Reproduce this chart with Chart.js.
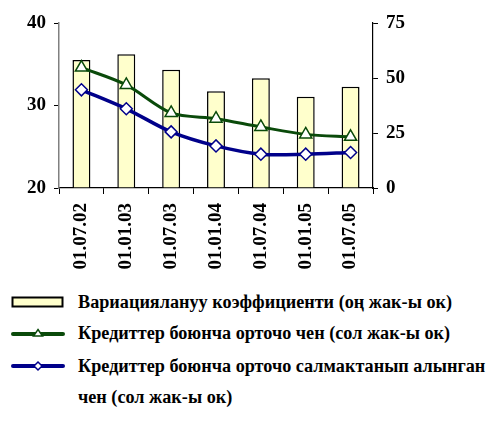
<!DOCTYPE html>
<html>
<head>
<meta charset="utf-8">
<script src="https://cdn.jsdelivr.net/npm/chart.js@4/dist/chart.umd.min.js"></script>
<style>
  body { margin: 0; background: #fff; font-family: "Liberation Serif", "Times New Roman", serif; }
  #wrap { position: relative; width: 491px; height: 285px; }
  #legend { position: absolute; left: 0; top: 288px; width: 491px; }
  .row { position: absolute; left: 11px; height: 20px; display: flex; align-items: center; }
  .row span { font-weight: 700; font-size: 18.2px; color: #000; position: absolute; left: 67px; white-space: nowrap; }
</style>
</head>
<body>
<div id="wrap"><canvas id="chart"></canvas></div>
<div id="legend"></div>
<script>
// chart data
const dates = ["01.07.02", "01.01.03", "01.07.03", "01.01.04", "01.07.04", "01.01.05", "01.07.05"];
const variation = [58.2, 60.8, 53.8, 44.0, 49.9, 41.5, 46.0];      // right axis
const avgRate = [34.6, 32.5, 29.1, 28.4, 27.4, 26.5, 26.2];        // left axis
const weightedRate = [31.9, 29.6, 26.8, 25.1, 24.1, 24.1, 24.3];   // left axis
const leftTicks = [20, 30, 40];
const rightTicks = [0, 25, 50, 75];

const names = [
    "Вариациялануу коэффициенти (оң жак-ы ок)",
    "Кредиттер боюнча орточо чен (сол жак-ы ок)",
    "Кредиттер боюнча орточо салмактанып алынган",
    "чен (сол жак-ы ок)"
];

const GREEN = "#0a4a0a";
const NAVY = "#00008a";
const tickFont = { family: "'Liberation Serif', 'Times New Roman', serif", size: 19, weight: 700 };

const ctx = document.getElementById("chart").getContext("2d");
new Chart(ctx, {
    type: "bar",
    data: {
        labels: dates,
        datasets: [
            {
                type: "line", label: names[1], data: avgRate, yAxisID: "yL", order: 1,
                borderColor: GREEN, borderWidth: 3, tension: 0.3,
                pointStyle: "triangle", pointRadius: 7, pointBackgroundColor: "#fff",
                pointBorderColor: GREEN, pointBorderWidth: 1.5
            },
            {
                type: "line", label: names[2], data: weightedRate, yAxisID: "yL", order: 0,
                borderColor: NAVY, borderWidth: 3.5, tension: 0.3,
                pointStyle: "rectRot", pointRadius: 6, pointBackgroundColor: "#fff",
                pointBorderColor: NAVY, pointBorderWidth: 1.5
            },
            {
                label: names[0], data: variation, yAxisID: "yR", order: 2,
                backgroundColor: "#ffffcc", borderColor: "#000", borderWidth: 1.5,
                categoryPercentage: 1, barPercentage: 0.4
            }
        ]
    },
    options: {
        responsive: true,
        maintainAspectRatio: false,
        animation: false,
        layout: { padding: { left: 0, right: 78, top: 23, bottom: 0 } },
        plugins: { legend: { display: false }, tooltip: { enabled: false } },
        scales: {
            x: {
                grid: { drawOnChartArea: false, color: "#000", tickLength: 6, offset: true },
                border: { color: "#000", width: 1.2 },
                ticks: { color: "#000", font: tickFont, minRotation: 90, maxRotation: 90, padding: 9 },
                afterFit: s => { s.height = 97; }
            },
            yL: {
                position: "left", min: 20, max: 40,
                afterBuildTicks: s => { s.ticks = leftTicks.map(v => ({ value: v })); },
                grid: { drawOnChartArea: false, color: "#000", tickLength: 5 },
                border: { color: "#808080", width: 1.5 },
                ticks: { color: "#000", font: tickFont, padding: 8 },
                afterFit: s => { s.width = 59; }
            },
            yR: {
                position: "right", min: 0, max: 75,
                afterBuildTicks: s => { s.ticks = rightTicks.map(v => ({ value: v })); },
                grid: { drawOnChartArea: false, color: "#000", tickLength: 5 },
                border: { color: "#000", width: 1.2 },
                ticks: { color: "#000", font: tickFont, padding: 8 },
                afterFit: s => { s.width = 40; }
            }
        }
    }
});

// legend drawn as html below the chart
const legend = document.getElementById("legend");
const marks = [
    '<svg width="54" height="12"><rect x="1.5" y="1.5" width="50" height="9" fill="#ffffcc" stroke="#000" stroke-width="2"/></svg>',
    '<svg width="54" height="12"><line x1="2" y1="7" x2="52" y2="7" stroke="' + GREEN + '" stroke-width="4" stroke-linecap="round"/><polygon points="27,2.5 31.5,9 22.5,9" fill="#fff" stroke="' + GREEN + '" stroke-width="1.5"/></svg>',
    '<svg width="54" height="12"><line x1="2" y1="6" x2="52" y2="6" stroke="' + NAVY + '" stroke-width="4" stroke-linecap="round"/><polygon points="27,2 31,6 27,10 23,6" fill="#fff" stroke="' + NAVY + '" stroke-width="1.5"/></svg>',
    ''
];
const rowsY = [4, 35, 68, 99];
names.forEach((n, i) => {
    const row = document.createElement("div");
    row.className = "row";
    row.style.top = rowsY[i] + "px";
    row.innerHTML = marks[i] + "<span>" + n + "</span>";
    legend.appendChild(row);
});
</script>
</body>
</html>
